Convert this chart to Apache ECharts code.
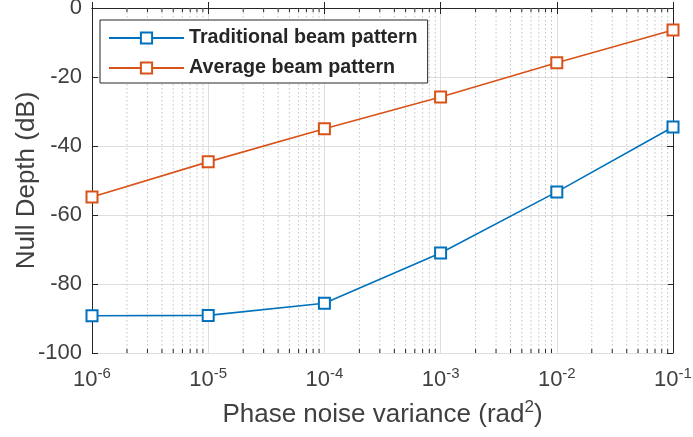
<!DOCTYPE html>
<html><head><meta charset="utf-8">
<script src="https://cdn.jsdelivr.net/npm/echarts@6/dist/echarts.min.js"></script>
<style>html,body{margin:0;padding:0;background:#fff}#c{width:693px;height:437px}</style>
</head><body><div id="c"></div>
<script>
const xValues = [1e-6, 1e-5, 1e-4, 1e-3, 1e-2, 1e-1];
const traditional = [-89.2, -89.1, -85.6, -71.0, -53.3, -34.5];
const average = [-54.8, -44.6, -35.0, -25.8, -15.9, -6.4];
const seriesNames = ['Traditional beam pattern', 'Average beam pattern'];
const yTicks = [0, -20, -40, -60, -80, -100];
const decades = [-6, -5, -4, -3, -2];
const minorMult = [2, 3, 4, 5, 6, 7, 8, 9];

const minorX = [];
decades.forEach(d => minorMult.forEach(m => minorX.push([m * Math.pow(10, d), -100])));

const axisColor = '#262626';
const labelColor = '#404040';
const font = 'Liberation Sans, Arial, sans-serif';

function expLabel(v) {
  const e = Math.round(Math.log10(v));
  return '10{sup|' + e + '}';
}
const supRich = {
  sup: {fontSize: 15, color: labelColor, fontFamily: font, verticalAlign: 'top', padding: [0, 0, 13, 0]}
};

const chart = echarts.init(document.getElementById('c'), null, {renderer: 'canvas'});
chart.setOption({
  animation: false,
  backgroundColor: '#fff',
  textStyle: {fontFamily: font},
  grid: {left: 92, top: 8, right: 20, bottom: 84, containLabel: false, outerBoundsMode: 'none'},
  legend: {
    data: seriesNames,
    orient: 'vertical',
    left: 100, top: 20,
    padding: [6, 10, 3, 8],
    itemGap: 6,
    itemWidth: 75, itemHeight: 14,
    borderColor: axisColor, borderWidth: 1,
    backgroundColor: '#fff',
    textStyle: {fontSize: 19.7, fontWeight: 'bold', color: '#262626', fontFamily: font, lineHeight: 24}
  },
  xAxis: [{
    type: 'log', logBase: 10, min: 1e-6, max: 1e-1,
    position: 'bottom',
    name: 'Phase noise variance (rad{sup|2})',
    nameLocation: 'middle', nameGap: 46,
    nameTextStyle: {fontSize: 26, color: labelColor, fontFamily: font,
      rich: {sup: {fontSize: 17, color: labelColor, fontFamily: font, verticalAlign: 'top', padding: [0, 0, 14, 0]}}},
    axisLine: {show: true, lineStyle: {color: axisColor, width: 1}},
    axisTick: {show: true, inside: true, length: 6, lineStyle: {color: axisColor}},
    axisLabel: {formatter: expLabel, margin: 13, fontSize: 22, color: labelColor, rich: supRich},
    splitLine: {show: true, lineStyle: {color: '#dedede', width: 1}}
  }, {
    type: 'log', logBase: 10, min: 1e-6, max: 1e-1,
    position: 'top',
    axisLine: {show: true, lineStyle: {color: axisColor, width: 1}},
    axisTick: {show: true, inside: true, length: 6, lineStyle: {color: axisColor}},
    axisLabel: {show: false},
    splitLine: {show: false}
  }],
  yAxis: [{
    type: 'value', min: -100, max: 0, interval: 20,
    name: 'Null Depth (dB)', nameLocation: 'middle', nameGap: 52, nameMoveOverlap: false,
    nameTextStyle: {fontSize: 26, color: labelColor, fontFamily: font},
    axisLine: {show: true, lineStyle: {color: axisColor, width: 1}},
    axisTick: {show: true, inside: true, length: 6, lineStyle: {color: axisColor}},
    axisLabel: {fontSize: 22, color: labelColor, margin: 10,
      formatter: v => yTicks.includes(v) ? String(v) : ''},
    splitLine: {show: true, lineStyle: {color: '#dedede', width: 1}}
  }, {
    type: 'value', min: -100, max: 0, interval: 20, position: 'right',
    axisLine: {show: true, lineStyle: {color: axisColor, width: 1}},
    axisTick: {show: true, inside: true, length: 6, lineStyle: {color: axisColor}},
    axisLabel: {show: false},
    splitLine: {show: false}
  }],
  series: [{
    type: 'custom', name: 'minor', silent: true, z: 1,
    xAxisIndex: 0, yAxisIndex: 0,
    data: minorX,
    encode: {x: 0, y: 1},
    renderItem: function (params, api) {
      const x = api.value(0);
      const top = api.coord([x, 0]);
      const bot = api.coord([x, -100]);
      return {type: 'group', children: [
        {type: 'line', shape: {x1: top[0], y1: top[1], x2: bot[0], y2: bot[1]},
         style: {stroke: '#c4c4c4', lineWidth: 1, lineDash: [1.5, 2.5]}},
        {type: 'line', shape: {x1: bot[0], y1: bot[1], x2: bot[0], y2: bot[1] - 4},
         style: {stroke: axisColor, lineWidth: 1}},
        {type: 'line', shape: {x1: top[0], y1: top[1], x2: top[0], y2: top[1] + 4},
         style: {stroke: axisColor, lineWidth: 1}}
      ]};
    }
  }, {
    type: 'line', name: seriesNames[0], z: 5,
    data: xValues.map((x, i) => [x, traditional[i]]),
    symbol: 'emptyRect', symbolSize: 11,
    lineStyle: {color: '#0072BD', width: 1.6},
    itemStyle: {color: '#0072BD', borderWidth: 1.5}
  }, {
    type: 'line', name: seriesNames[1], z: 5,
    data: xValues.map((x, i) => [x, average[i]]),
    symbol: 'emptyRect', symbolSize: 11,
    lineStyle: {color: '#D95319', width: 1.6},
    itemStyle: {color: '#D95319', borderWidth: 1.5}
  }]
});
</script>
</body></html>
